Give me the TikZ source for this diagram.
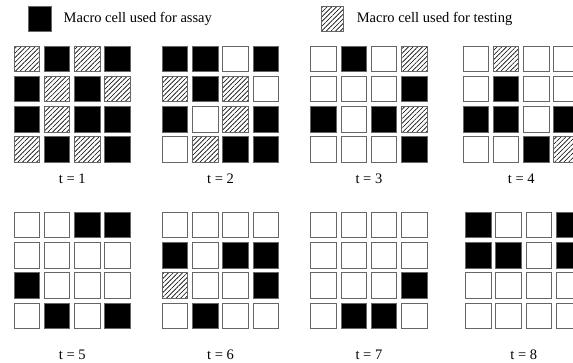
\documentclass[tikz,border=0pt]{standalone}
\usepackage{fontspec}
\setmainfont{Liberation Serif}
\usetikzlibrary{patterns.meta, positioning}
\tikzset{
  cell_W/.style={rectangle, draw=black!60, line width=0.9pt, fill=white, minimum size=25.5pt, inner sep=0pt},
  cell_B/.style={cell_W, fill=black},
  cell_H/.style={cell_W, pattern={Lines[angle=45, distance=3.3pt, line width=0.6pt]}},
  time_label/.style={font=\fontsize{14.5}{16}\selectfont},
  legend_text/.style={font=\fontsize{14.5}{16}\selectfont, anchor=west}
}

\begin{document}
\begin{tikzpicture}[x=1pt, y=-1pt]
  \useasboundingbox (0,0) rectangle (573,362);
  \clip (0,0) rectangle (573,362);

  % --- Legend ---
  \node[cell_B, minimum width=23.5pt, minimum height=25pt] (key_assay) at (40,19) {};
  \node[legend_text, right=8pt of key_assay] (key_assay_text) {Macro cell used for assay};
  \node[cell_H, minimum width=22pt, minimum height=25pt] (key_test) at (332.5,18.5) {};
  \node[legend_text, right=9.5pt of key_test] (key_test_text) {Macro cell used for testing};

  % --- Grids: time step / x / y / label y / cells row by row ---
  \foreach \g/\gx/\gy/\ly/\cells in {
      1/14/46/179/{H,B,H,B, B,H,B,H, B,H,B,B, H,B,H,B},
      2/162.3/46/179/{B,B,W,B, H,B,H,W, B,W,H,B, W,H,B,B},
      3/310.7/46/179/{W,B,W,H, W,W,W,B, B,W,B,H, W,W,W,B},
      4/463/46/179/{W,H,W,W, W,B,W,W, B,B,W,B, W,W,B,H},
      5/14/212.3/355/{W,W,B,B, W,W,W,W, B,W,W,W, W,B,W,B},
      6/162.3/212.3/355/{W,W,W,W, B,W,B,B, H,W,W,B, W,B,W,W},
      7/310.7/212.3/355/{W,W,W,W, W,W,W,W, W,W,W,B, W,B,B,W},
      8/465.5/212.3/355/{B,W,W,B, B,B,W,B, W,W,W,W, W,W,W,W}}
  {
    \foreach \s [count=\i from 0] in \cells
      \node[cell_\s] (g\g-\i) at ({\gx+12.75+30.3*mod(\i,4)}, {\gy+12.75+30.3*int(\i/4)}) {};
    \node[time_label] (t\g) at ({\gx+58.2}, \ly) {t = \g};
  }
\end{tikzpicture}
\end{document}
